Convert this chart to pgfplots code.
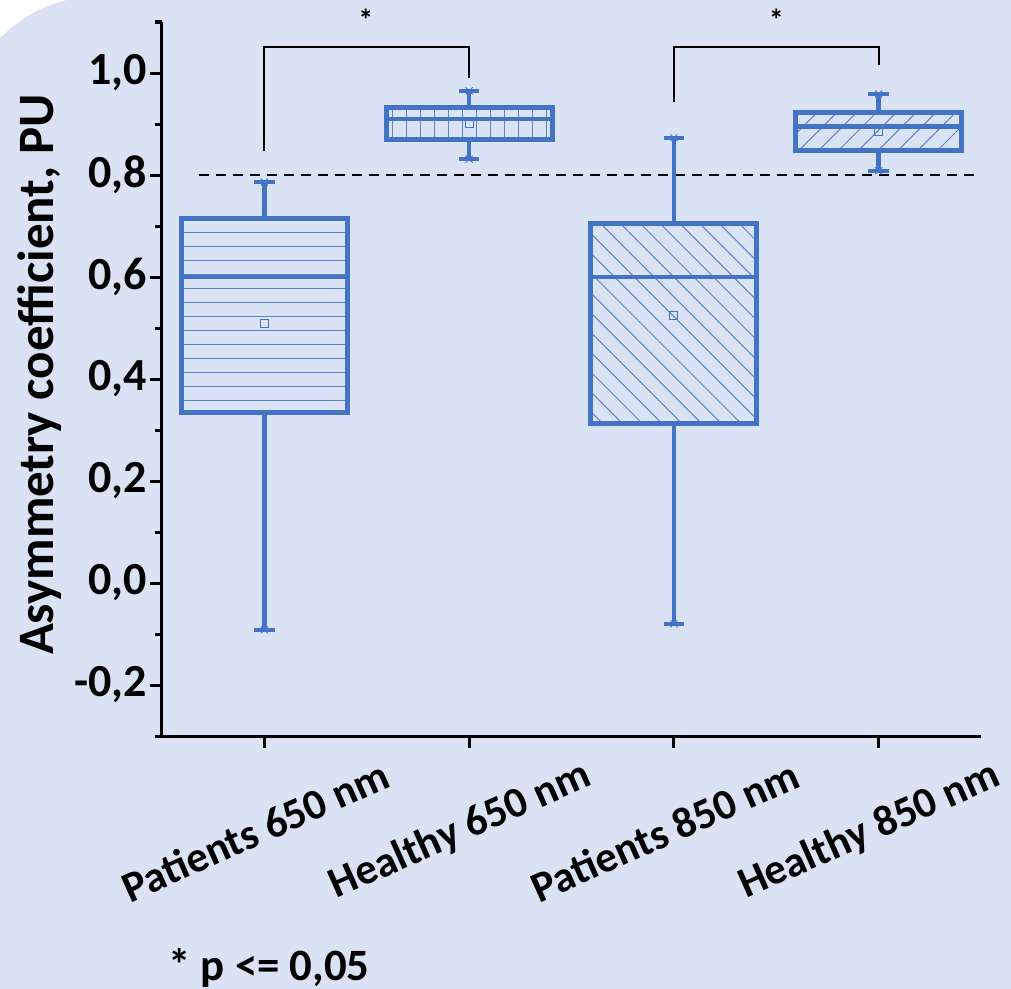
\documentclass[border=0pt]{standalone}
\usepackage{pgfplots}
\pgfplotsset{compat=1.18}
\usepgfplotslibrary{statistics}
\usetikzlibrary{patterns.meta}
\usepackage{fontspec}
\setmainfont{Carlito}
\definecolor{bg}{HTML}{DAE3F3}
\definecolor{bblue}{HTML}{4472C4}
\definecolor{hblue}{HTML}{5A82CC}
\begin{document}
\begin{tikzpicture}
\path[use as bounding box] (0,0) rectangle (505.5pt,-494.5pt);
\fill[white] (0,0) rectangle (505.5pt,-494.5pt);
\fill[bg] (33.5pt,0) -- (505.5pt,0) -- (505.5pt,-494.5pt) -- (0,-494.5pt) -- (0,-19pt) .. controls (8pt,-11pt) and (20pt,-3pt) .. (33.5pt,0) -- cycle;
\begin{axis}[
  at={(81pt,-368pt)}, anchor=south west,
  scale only axis, width=409.5pt, height=357pt,
  xmin=0.5, xmax=4.5, ymin=-0.3, ymax=1.1,
  axis lines=left,
  axis line style={-, line width=1.5pt, black},
  tick align=outside,
  tick style={line width=1.5pt, black},
  major tick length=6pt, minor tick length=3.5pt,
  xtick={1,2,3,4},
  xticklabels={Patients 650 nm, Healthy 650 nm, Patients 850 nm, Healthy 850 nm},
  ytick={-0.2,0,0.2,0.4,0.6,0.8,1.0},
  minor ytick={-0.3,-0.1,0.1,0.3,0.5,0.7,0.9,1.1},
  /pgf/number format/.cd, fixed, fixed zerofill, precision=1, use comma, assume math mode=true,
  /pgfplots/.cd,
  yticklabel style={font=\fontsize{23}{27}\selectfont\bfseries, inner sep=0pt, xshift=-1.5pt},
  xticklabel style={font=\fontsize{21.5}{25}\selectfont\bfseries, anchor=center, xshift=-4.5pt, yshift=-41.5pt, rotate=24},
  ylabel={Asymmetry coefficient, PU},
  ylabel style={font=\fontsize{25.5}{30}\selectfont\bfseries, at={(axis description cs:-0.133,0.506)}, anchor=base},
  clip=false,
  boxplot/draw direction=y,
  boxplot/box extend=0.81,
  boxplot/whisker extend=0.1,
  boxplot/every box/.style={line width=2.5pt},
  boxplot/every whisker/.style={line width=2.2pt},
  boxplot/every median/.style={line width=2.2pt},
]
% reference line and brackets
\addplot[black, line width=1pt, dash pattern=on 5pt off 3.5pt] coordinates {(0.68,0.8) (4.48,0.8)};
\addplot[black, line width=1pt] coordinates {(1,0.847) (1,1.051) (2,1.051) (2,0.99)};
\addplot[black, line width=1pt] coordinates {(3,0.943) (3,1.051) (4,1.051) (4,1.016)};
\node[font=\fontsize{15}{17}\selectfont\bfseries] at (axis cs:1.495,1.104) {*};
\node[font=\fontsize{15}{17}\selectfont\bfseries] at (axis cs:3.5,1.104) {*};
% boxes
\addplot[draw=bblue, pattern={Lines[angle=0,distance=7pt,line width=0.5pt]}, pattern color=hblue,
  boxplot prepared={draw position=1, lower whisker=-0.092, lower quartile=0.335, median=0.600, upper quartile=0.715, upper whisker=0.786}] coordinates {};
\addplot[draw=bblue, pattern={Lines[angle=90,distance=7pt,line width=0.5pt]}, pattern color=hblue,
  boxplot prepared={draw position=2, lower whisker=0.831, lower quartile=0.870, median=0.910, upper quartile=0.932, upper whisker=0.965}] coordinates {};
\addplot[draw=bblue, pattern={Lines[angle=-45,distance=7pt,line width=0.5pt]}, pattern color=hblue,
  boxplot prepared={draw position=3, lower whisker=-0.080, lower quartile=0.312, median=0.600, upper quartile=0.705, upper whisker=0.873}] coordinates {};
\addplot[draw=bblue, pattern={Lines[angle=45,distance=7pt,line width=0.5pt]}, pattern color=hblue,
  boxplot prepared={draw position=4, lower whisker=0.808, lower quartile=0.849, median=0.895, upper quartile=0.923, upper whisker=0.959}] coordinates {};
% means
\addplot[only marks, mark=square, mark size=2pt, bblue, mark options={line width=0.5pt}] coordinates {(1,0.508) (2,0.901) (3,0.524) (4,0.886)};
% whisker end markers
\addplot[only marks, mark=x, mark size=2.5pt, bblue, mark options={line width=0.4pt}] coordinates {(1,-0.092) (1,0.786) (2,0.831) (2,0.965) (3,-0.080) (3,0.873) (4,0.808) (4,0.959)};
\end{axis}
\node[anchor=base west, font=\fontsize{22.4}{26}\selectfont\bfseries, inner sep=0pt] at (84pt,-490pt) {* p <= 0,05};
\end{tikzpicture}
\end{document}
